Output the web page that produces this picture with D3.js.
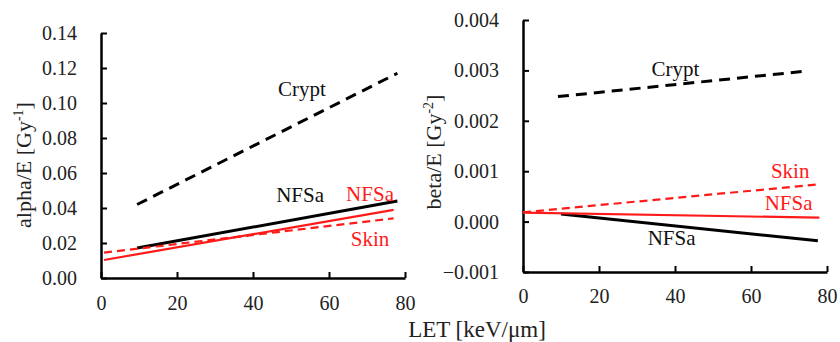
<!DOCTYPE html>
<html>
<head>
<meta charset="utf-8">
<script src="https://cdn.jsdelivr.net/npm/d3@7"></script>
<style>
  body { margin: 0; background: #fff; }
</style>
</head>
<body>
<svg id="chart" width="840" height="342"></svg>
<script>
// LET ticks shared by both panels
var letTicks = [0, 20, 40, 60, 80];
var alphaTicks = [0, 0.02, 0.04, 0.06, 0.08, 0.10, 0.12, 0.14];
var betaTicks = [-0.001, 0, 0.001, 0.002, 0.003, 0.004];

// alpha/E vs LET (start and end points of each fitted line)
var alphaCrypt = [[9.5, 0.042], [78, 0.117]];
var alphaNfsaBlack = [[9.5, 0.0171], [78, 0.044]];
var alphaNfsaRed = [[0.8, 0.0103], [77, 0.0389]];
var alphaSkin = [[0.8, 0.0145], [77, 0.0341]];

// beta/E vs LET
var betaCrypt = [[9.2, 0.00248], [75, 0.00299]];
var betaNfsaBlack = [[10, 0.00015], [77.6, -0.00038]];
var betaNfsaRed = [[0, 0.00018], [78, 0.000077]];
var betaSkin = [[0, 0.000185], [78, 0.00074]];

// curve labels [text, LET, value]
var alphaLabels = [["Crypt", 52.9, 0.104], ["NFSa", 52.4, 0.0434], ["NFSa", 70.8, 0.044], ["Skin", 70.8, 0.0183]];
var betaLabels = [["Crypt", 40.1, 0.00289], ["NFSa", 39.1, -0.000464], ["NFSa", 69.9, 0.00023], ["Skin", 70.3, 0.000865]];

var FONT = "'Liberation Serif', 'Times New Roman', Times, 'DejaVu Serif', serif";
var svg = d3.select('#chart').attr('font-family', FONT);
var red = '#ff1a1a';

function drawPanel(opts) {
    var x = d3.scaleLinear().domain([0, 80]).range(opts.xRange);
    var y = d3.scaleLinear().domain(opts.yDomain).range(opts.yRange);
    var g = svg.append('g');

    var xAxis = g.append('g')
        .attr('transform', 'translate(0,' + opts.yRange[0] + ')')
        .call(d3.axisBottom(x).tickValues(letTicks).tickSizeInner(-6).tickSizeOuter(0).tickPadding(opts.xPad)
            .tickFormat(d3.format('d')));

    var yAxis = g.append('g')
        .attr('transform', 'translate(' + opts.xRange[0] + ',0)')
        .call(d3.axisLeft(y).tickValues(opts.yTicks).tickSizeInner(-6).tickSizeOuter(0).tickPadding(24)
            .tickFormat(d3.format(opts.fmt)));

    [xAxis, yAxis].forEach(function (a) {
        a.attr('font-family', FONT).attr('font-size', 20);
        a.select('.domain').attr('stroke', '#000').attr('stroke-width', 2.5);
        a.selectAll('.tick line').attr('stroke', '#000').attr('stroke-width', 2);
        a.selectAll('.tick text').attr('fill', '#222');
    });

    var line = d3.line().x(function (d) { return x(d[0]); }).y(function (d) { return y(d[1]); });

    opts.series.forEach(function (s) {
        g.append('path')
            .datum(s.data)
            .attr('d', line)
            .attr('fill', 'none')
            .attr('stroke', s.color)
            .attr('stroke-width', s.color === red ? 2.2 : 3)
            .attr('stroke-dasharray', s.dash || null);
    });

    g.selectAll('.lbl')
        .data(opts.labels)
        .enter()
        .append('text')
        .attr('x', function (d) { return x(d[1]); })
        .attr('y', function (d) { return y(d[2]); })
        .attr('text-anchor', 'middle')
        .attr('font-size', 21)
        .attr('fill', function (d, i) { return i < 2 ? '#111' : red; })
        .text(function (d) { return d[0]; });

    var t = svg.append('text')
        .attr('transform', 'translate(' + opts.titlePos[0] + ',' + opts.titlePos[1] + ') rotate(-90)')
        .attr('text-anchor', 'middle')
        .attr('font-size', 22)
        .attr('fill', '#222');
    t.append('tspan').text(opts.title + ' [Gy');
    t.append('tspan').attr('font-size', 14).attr('dy', -8).text(opts.sup);
    t.append('tspan').attr('dy', 8).text(']');
}

drawPanel({
    xRange: [101, 405], yDomain: [0, 0.14], yRange: [278, 33], yTicks: alphaTicks, fmt: '.2f', xPad: 18,
    series: [
        { data: alphaCrypt, color: '#000', dash: '11,7' },
        { data: alphaNfsaBlack, color: '#000' },
        { data: alphaNfsaRed, color: red },
        { data: alphaSkin, color: red, dash: '8,5' }
    ],
    labels: alphaLabels,
    title: 'alpha/E', sup: '-1', titlePos: [31, 165]
});

drawPanel({
    xRange: [523, 827], yDomain: [-0.001, 0.004], yRange: [272, 20], yTicks: betaTicks, fmt: '.3f', xPad: 17,
    series: [
        { data: betaCrypt, color: '#000', dash: '11,7' },
        { data: betaNfsaBlack, color: '#000' },
        { data: betaNfsaRed, color: red },
        { data: betaSkin, color: red, dash: '8,5' }
    ],
    labels: betaLabels,
    title: 'beta/E', sup: '-2', titlePos: [441, 152]
});

svg.append('text')
    .attr('x', 477)
    .attr('y', 337)
    .attr('text-anchor', 'middle')
    .attr('font-size', 23)
    .attr('fill', '#222')
    .text('LET [keV/\u03bcm]');
</script>
</body>
</html>
